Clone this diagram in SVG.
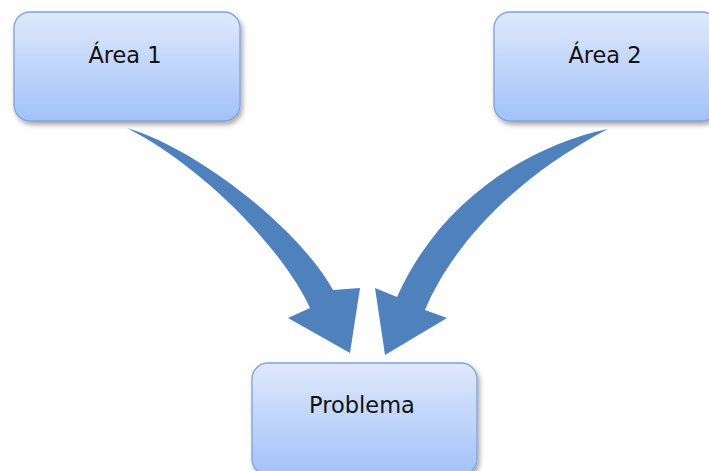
<svg xmlns="http://www.w3.org/2000/svg" width="709" height="471" viewBox="0 0 709 471">
<defs>
<linearGradient id="boxGrad" x1="0" y1="0" x2="0" y2="1">
<stop offset="0" stop-color="#dfe9fc"/>
<stop offset="1" stop-color="#a3c2f8"/>
</linearGradient>
<filter id="shadow" x="-10%" y="-10%" width="130%" height="130%">
<feDropShadow dx="2" dy="3" stdDeviation="2.5" flood-color="#000" flood-opacity="0.35"/>
</filter>
</defs>
<style>
.box{fill:url(#boxGrad);stroke:#7fa3da;stroke-width:1.3;filter:url(#shadow)}
.lbl{font-family:"DejaVu Sans","Open Sans",sans-serif;font-size:22.5px;fill:#111;text-anchor:middle}
.arrow{fill:#4f81bd;stroke:none}
</style>
<rect width="709" height="471" fill="#fff"/>
<g id="connectors">
<path class="arrow" d="M127,128 C200,150 300,230 333,290 L360,288 L350,353 L288,318 L310,308 C287,257 212,172 127,128 Z"/>
<path class="arrow" d="M608,129 C530,145 440,200 397,297 L375,288 L385,355 L447,318 L425,310 C450,250 510,180 608,129 Z"/>
</g>
<g id="area1">
<rect class="box" x="14" y="12" width="226" height="109" rx="16"/>
<text class="lbl" x="125" y="63">Área 1</text>
</g>
<g id="area2">
<rect class="box" x="494" y="12" width="224" height="109" rx="16"/>
<text class="lbl" x="605" y="63">Área 2</text>
</g>
<g id="problema">
<rect class="box" x="252" y="363" width="225" height="112" rx="16"/>
<text class="lbl" x="362" y="413">Problema</text>
</g>
</svg>
